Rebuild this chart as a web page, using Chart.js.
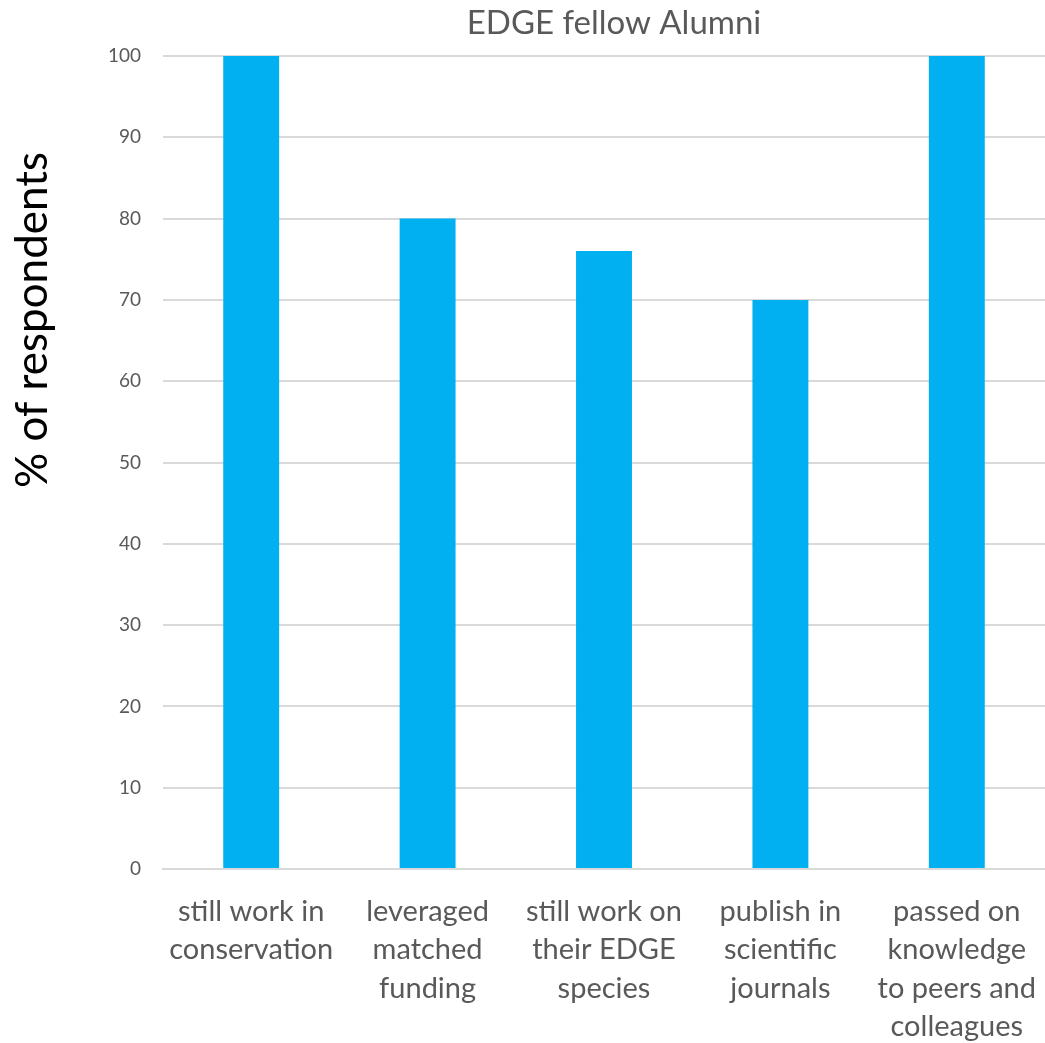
<!DOCTYPE html>
<html>
<head>
<meta charset="utf-8">
<script src="https://cdn.jsdelivr.net/npm/chart.js@4"></script>
<style>
  html, body { margin: 0; padding: 0; background: #ffffff; }
  #wrap { width: 1045px; height: 1043px; position: relative; }
</style>
</head>
<body>
<div id="wrap"><canvas id="c" width="1045" height="1043"></canvas></div>
<script>
const categories = [
  ["still work in", "conservation"],
  ["leveraged", "matched", "funding"],
  ["still work on", "their EDGE", "species"],
  ["publish in", "scientific", "journals"],
  ["passed on", "knowledge", "to peers and", "colleagues"]
];
const percentValues = [100, 80, 76, 70, 100];
const yTicksMin = 0, yTicksMax = 100, yTickStep = 10;
const chartTitle = 'EDGE fellow Alumni';
const yAxisTitle = '% of respondents';

const FONT = "Lato, 'Open Sans', sans-serif";

const textPlugin = {
  id: 'textPlugin',
  afterDraw(chart) {
    const ctx = chart.ctx;
    ctx.save();
    ctx.fillStyle = '#595959';
    ctx.font = "33px " + FONT;
    ctx.textAlign = 'center';
    ctx.textBaseline = 'alphabetic';
    ctx.fillText(chartTitle, 614, 34);
    ctx.fillStyle = '#000000';
    ctx.font = "44px " + FONT;
    ctx.translate(47, 320);
    ctx.rotate(-Math.PI / 2);
    ctx.fillText(yAxisTitle, 0, 0);
    ctx.restore();
  }
};

new Chart(document.getElementById('c'), {
  type: 'bar',
  data: {
    labels: categories,
    datasets: [{
      data: percentValues,
      backgroundColor: '#00B0F0',
      borderWidth: 0,
      barPercentage: 1,
      categoryPercentage: 0.317
    }]
  },
  plugins: [textPlugin],
  options: {
    responsive: false,
    animation: false,
    devicePixelRatio: 1,
    layout: { padding: { left: 0, right: 0, top: 56, bottom: 0 } },
    plugins: {
      legend: { display: false },
      tooltip: { enabled: false },
      title: { display: false }
    },
    scales: {
      x: {
        grid: { display: false, drawTicks: false },
        border: { display: true, color: '#d9d9d9', width: 2 },
        ticks: {
          color: '#595959',
          font: { family: FONT, size: 29, lineHeight: 1.33 },
          padding: 23,
          maxRotation: 0,
          autoSkip: false
        },
        afterFit: s => { s.height = 174; s.paddingLeft = 0; s.paddingRight = 0; }
      },
      y: {
        min: yTicksMin,
        max: yTicksMax,
        grid: { color: '#d9d9d9', lineWidth: 2, drawTicks: false },
        border: { display: false },
        ticks: {
          stepSize: yTickStep,
          color: '#595959',
          font: { family: FONT, size: 19 },
          padding: 22
        },
        afterFit: s => { s.width = 163; s.paddingTop = 0; s.paddingBottom = 0; }
      }
    }
  }
});
</script>
</body>
</html>
